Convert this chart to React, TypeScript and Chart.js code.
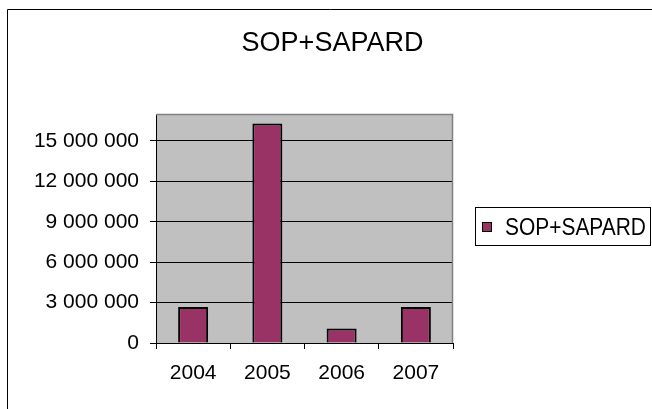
import React, { useEffect, useRef } from "react";
import { Chart, registerables } from "chart.js";

Chart.register(...registerables);

const titleText = "SOP+SAPARD";
const seriesLabel = "SOP+SAPARD";
const categories = ["2004", "2005", "2006", "2007"];
const values = [2670000, 16300000, 1070000, 2670000];
const yTicks = [0, 3000000, 6000000, 9000000, 12000000, 15000000];
const yMax = 17000000;

const FONT = '"Liberation Sans", Arial, sans-serif';
const BAR = "#993366";

function fmt(v: number): string {
  return String(Math.round(v)).replace(/\B(?=(\d{3})+(?!\d))/g, " ");
}

const decorPlugin = {
  id: "decor",
  beforeDraw(chart: any) {
    const { ctx, chartArea } = chart;
    ctx.save();
    ctx.fillStyle = "#ffffff";
    ctx.fillRect(0, 0, chart.width, chart.height);
    ctx.fillStyle = "#C0C0C0";
    ctx.fillRect(chartArea.left, chartArea.top, chartArea.right - chartArea.left, chartArea.bottom - chartArea.top);
    ctx.restore();
  },
  afterDraw(chart: any) {
    const { ctx, chartArea } = chart;
    ctx.save();
    // outer frame (cropped at right/bottom)
    ctx.strokeStyle = "#000000";
    ctx.lineWidth = 1;
    ctx.beginPath();
    ctx.moveTo(7.5, chart.height + 2);
    ctx.lineTo(7.5, 9.5);
    ctx.lineTo(chart.width + 2, 9.5);
    ctx.stroke();
    // plot top/right border
    ctx.strokeStyle = "#808080";
    ctx.lineWidth = 1.5;
    ctx.beginPath();
    ctx.moveTo(chartArea.left, chartArea.top + 0.5);
    ctx.lineTo(chartArea.right - 0.5, chartArea.top + 0.5);
    ctx.lineTo(chartArea.right - 0.5, chartArea.bottom);
    ctx.stroke();
    // title
    ctx.fillStyle = "#000000";
    ctx.font = `27px ${FONT}`;
    ctx.textAlign = "center";
    ctx.textBaseline = "alphabetic";
    ctx.fillText(titleText, 332.5, 50.5);
    // legend
    const label = chart.data.datasets[0].label;
    ctx.strokeStyle = "#000000";
    ctx.lineWidth = 1;
    ctx.strokeRect(475.5, 207.5, 175, 38);
    ctx.fillStyle = BAR;
    ctx.fillRect(482.5, 222.5, 9, 9);
    ctx.strokeRect(482.5, 222.5, 9, 9);
    ctx.fillStyle = "#000000";
    ctx.font = `23px ${FONT}`;
    ctx.textAlign = "left";
    ctx.translate(505, 235);
    ctx.scale(0.91, 1);
    ctx.fillText(label, 0, 0);
    ctx.restore();
  },
};

export default function App() {
  const ref = useRef<HTMLCanvasElement | null>(null);
  useEffect(() => {
    document.body.style.margin = "0";
    const chart = new Chart(ref.current as HTMLCanvasElement, {
      type: "bar",
      data: {
        labels: categories,
        datasets: [
          {
            label: seriesLabel,
            data: values,
            backgroundColor: BAR,
            borderColor: "#000000",
            borderWidth: 2,
            barPercentage: 0.404,
            categoryPercentage: 1,
          },
        ],
      },
      plugins: [decorPlugin],
      options: {
        animation: false,
        responsive: true,
        maintainAspectRatio: false,
        layout: { padding: { left: 0, right: 199, top: 114, bottom: 0 } },
        plugins: {
          legend: { display: false },
          title: { display: false },
          tooltip: { enabled: false },
        },
        scales: {
          x: {
            offset: true,
            grid: {
              display: true,
              offset: true,
              drawOnChartArea: false,
              drawTicks: true,
              tickLength: 6,
              color: "#000000",
            },
            border: { display: true, color: "#000000" },
            ticks: { color: "#000000", font: { family: FONT, size: 21 }, padding: 12 },
            afterFit(scale: any) {
              scale.height = 66;
            },
          },
          y: {
            min: 0,
            max: yMax,
            grid: {
              display: true,
              drawOnChartArea: true,
              drawTicks: true,
              tickLength: 6,
              color: "#000000",
            },
            border: { display: true, color: "#000000" },
            ticks: {
              color: "#000000",
              font: { family: FONT, size: 21 },
              padding: 11,
              callback: (v: any) => fmt(Number(v)),
            },
            afterBuildTicks(scale: any) {
              scale.ticks = yTicks.map((v) => ({ value: v }));
            },
            afterFit(scale: any) {
              scale.width = 156;
            },
          },
        },
      },
    });
    return () => chart.destroy();
  }, []);
  return (
    <div style={{ width: 652, height: 409, position: "relative" }}>
      <canvas ref={ref} />
    </div>
  );
}
